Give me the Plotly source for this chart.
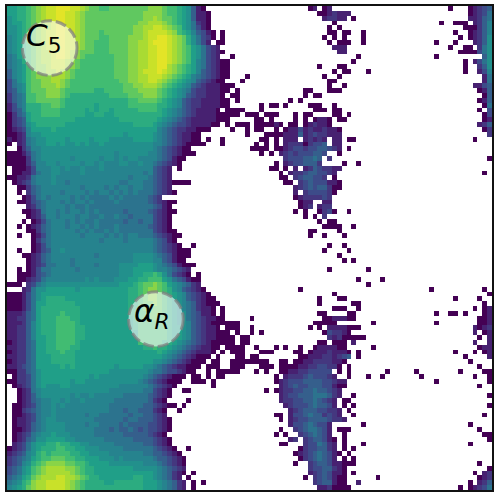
"""Backbone torsion density (log scale) on a 100 x 100 grid, with two labelled basins."""
import plotly.colors as pc
import plotly.graph_objects as go

# density level per cell, '.' is an empty bin; top row first
LEVELS = "0123456789abcdef"
# where each level sits on viridis
LEVEL_COLORS = [0.0, 0.09, 0.16, 0.23, 0.30, 0.38, 0.45, 0.50, 0.56, 0.62, 0.69, 0.75, 0.82, 0.87, 0.92, 0.96]

# columns 0-49
LEFT_ROWS = [
    "8899abcdee fffeedcbba abbbbbbbbc ccbaa98741 0",
    "8899abcdee ffeedcbbbb bbbbbbbbcc ccbaa98741 10",
    "7899abcdee ffeedcbbbb bbbbbbbbcc dcbba98741 10",
    "7889abcdde ffeedcbbbb bbbbbbbccd ddcba98752 10",
    "7789abcdde ffeedcbbbb bbbbbbccdd eedcba8753 10",
    "7789abcdee ffeedcbbba bbbbbbccde eeedca9864 310.0",
    "6789abcdee ffeedcbbba abbbbcccde effedcb975 320.0",
    "6789abcdee ffeedcbbaa abbbbccdde fffedcb975 31.00",
    "6789abcdee ffeedcbbaa abbbbccdde effedcba87 5321",
    "6789abcdde ffedcbbbaa abbbbccdde effedcba87 53210",
    "5689abcdde ffedcbaaaa aabbbccdde effedcba87 5321..0",
    "5679abcdde eedcbaaaaa aabbbccdde effedcba86 532100",
    "5678abccde eedcbaaaaa aabbbccdde effdcba986 532100",
    "4678abccdd edcbaaaaaa aabbbccdee efedcba986 432100",
    "4678abcccd ddcbaaaaaa aabbbccdde eedcba9865 432100...0",
    "3578abbccd dcbaaaaaaa aaabbccdde edcba98764 32100...0.",
    "3567abbccc dcbaaaaaaa aaaabbccdd dcba987643 2111000",
    "3467abbbcc cbaaaaaa99 aaaabbbccc cba9876532 211100.0",
    "2456aabbcc cba9999999 9aaaabbbcc cba9876432 21110.00",
    "2456aabbbb ba99999999 99999aabbb ba98764322 111100.0",
    "1356999aab ba99999989 99999aaaaa a998764322 111100",
    "1346999aaa a999998989 9899999aaa a987654321 1110.0000",
    "0245899aaa a999998899 8899999999 9987654321 11100000.0",
    "0234899999 9999888888 8889999999 9876543211 111000",
    "0234789999 9988888888 8888889999 8765433211 1100.0.000",
    "0123688889 8888888888 8888888888 8654322110 00....0..0",
    "0012677888 8888888888 8888788888 7654321100 .........0",
    "1012567788 8878888788 8777778888 7654321100 .0..0",
    "0.12567788 7877878778 7777777777 6654321000 0...0",
    "..02466777 7777777777 7777777777 65432100",
    "0001356777 7777777777 7767777776 654321000",
    "0000256777 7776777776 7767677666 6543100",
    "0000246677 6777767767 6667766766 543210",
    ".000136667 7676676667 6666666666 4321.0",
    ".001135667 7666676666 6666666656 4321",
    "0011256667 6666666666 6666656665 4321",
    ".012356667 6656666666 6665566655 43210000",
    "..00245666 6666656666 5656656655 4321",
    "..0.245666 6566665656 6565656555 43210",
    "...0135656 6665656555 5656555554 32",
    "..00134566 6565665655 5565555554 32100",
    "....124566 6656556555 5555555555 4310",
    "...0012566 5656656565 5555455554 32100",
    "....012466 5666566556 5565545555 3210",
    "...0.01356 6656565565 5555455455 3210",
    "..0.012456 6656656565 5565555554 3210",
    "....002456 6666565655 6565555555 32100",
    "..0..01356 6666656666 5656566555 432100",
    ".....02456 6666666665 6666566666 54310",
    ".....01356 6666666666 6666666666 543210..0",
    "..0..01346 6766666666 6666666666 54321000",
    "...0012456 6666666656 6666667777 65431000",
    "....012456 6665666666 6666667777 6643100",
    "....012355 6665666656 6667777888 765431000",
    "..0.013556 6666566666 6667778888 76654321",
    "..00013456 6666666666 6667778899 a9753210.0",
    "..00123566 6666667676 667778899a aa87543100",
    "000.235677 7777777777 7778889abb cba8765421",
    "...1257788 8888788888 8888899abc cba9764321 0",
    "0001357888 8888888888 8888899abc cba9876432 10",
    "0001357899 9988888888 8888899abc cba9876432 100",
    "0001358899 9999888888 8888899abb cba9876542 1000",
    "0001358999 9999988888 8888899abb bba9876542 110.0",
    "1112458999 9a99988888 8888899aab bba9877543 110.0",
    "1122458999 aaa9988888 8888889aab baa9877543 21100",
    "1112468999 aaaa988888 8888889aaa aaa9877643 21000000",
    "1122468999 aaaa998888 8888889aaa aaa9887643 2110.000",
    "1122468999 aaaa998888 8888888aaa aaa9887643 211000.0",
    "1122468899 aaaa998888 8888888aaa aaa9887643 2110000.00",
    "0122458899 aaaa988888 8888888aaa aa99876543 2100000.00",
    "1122458899 aaa9988888 8888888899 a998765432 1100.0000",
    "0122458899 9a99888888 8888888888 8987654321 110.0.000",
    "1122458889 9999888888 8888888888 8876543210 00.0...00",
    "0122458889 9999888888 8888888888 7765432100 0.00..0000",
    "1123458888 8989888888 8878888877 6543211000 .000..000",
    "0022457888 8888888888 8777777776 554332100. .0.00000",
    ".022357888 8888888787 7777777765 4321000.00 .0.00",
    "0022357888 8887887777 7777777654 321000..00 0.0",
    ".012357877 7887777777 7776666665 43210..... ..0",
    "..01256777 7777777777 7666666655 3210..00",
    "..01246777 7776766766 6666555554 3210",
    "..01245667 7676676666 6655555554 210....0",
    ".001235667 6766666666 6555555544 32100.0",
    ".002345667 6666666666 6555455444 210..0",
    ".001235667 6666665665 5555545544 321",
    ".011235677 6666666655 5555455444 3210",
    ".011245677 7766665665 5554544443 3210",
    ".001245677 7766666655 5454454343 3210",
    ".012356778 7776666655 5555444443 210",
    ".012457788 8877666666 5555554444 3210",
    ".123578899 a998877666 6655555544 3210",
    "0123578999 aa99887776 6666555555 43210..0",
    "1234679a9a aaa9988777 7666666655 443210",
    "2345689aab bbaa998887 7767666666 5443210",
    "234679abcc ccbbaa9888 8777777766 6543210",
    "34578abcdd ddccba9988 8888887777 7654321",
    "34578abcdd dddcba9988 8888888888 7654210.0",
    "45689bcddd eeddcba998 8888889988 765421.0",
    "5679acddee eedcba9999 8899999988 8765421.0. 0",
    "6789bcddee eedcba9999 9999999988 8765421.0",
]

# columns 50-99
RIGHT_ROWS = [
    ".......... ..01.01... .......... .......... .0...01234",
    ".......... ....001211 1......... .......... .....01235",
    ".......... .....12211 .0........ .......... .....11245",
    ".......... .......0.. .......... .........0 ..000.1246",
    ".......... ......0.0. .......... .......... ....000246",
    ".......... ......00.0 0..0...... .......... ..0..01246",
    ".......... .....0.0.0 ...0...... .......... ...0.01247",
    ".......... ......0.00 0..0...... ........0. ..0...1247",
    ".......... .......111 .......... .......... .0..00.257",
    ".......... ........11 .......... .......... ...0000357",
    ".......... .......... ..0....... ........0. ........47",
    ".......... .......... .0........ .......... ....0.1357",
    ".......... ....0...00 .......... .......... ....0..247",
    ".......... .......0.0 0...0..... .......... ....0..136",
    ".......... .....0..0. .......... .......... ........15",
    ".......... ......00.. .......... .......... ........15",
    ".......... ......0..0 .......... .......... ......1134",
    ".......... .00...000. .......... .......... .......014",
    ".......... .0.00..... .......... .......... ........04",
    "........0. 0......... .......... .......... .......014",
    "..0.00.0.. ..000..0.. .......... .......... ........05",
    "..0....... ...000.00. .......... .......... .......0.3",
    "00.000...0 .00....00. 0......... .......... ........03",
    ".00.0....0 .0.0110.00 .......... .......... ........01",
    ".000010.00 .012110... .......... .......... .......124",
    ".00..0.011 312112110. .......... .......... ........02",
    "...0000111 412322111. .......... .......... .........2",
    "..00.0.111 .12121.11. 00........ .......... ......0...",
    ".0.0.0.122 202334.11. .......... .......... ..........",
    "0000.00123 323344321. 0......... .......... ..........",
    "..0.0.1232 333443..0. .......... .......... ..........",
    ".......233 34454.2... .......... .......... .........0",
    ".....0.123 34442....0 ..0....... .......... ..........",
    "....00.0.1 .12432211. .......... .......... ..........",
    "......0.12 23443321.. .......... .......... ........0.",
    "......00.2 344332.0.. .......... .......... ..........",
    ".......00. 234333110. .......... .......... ..........",
    ".........1 234344200. .......... .......... ..........",
    ".........1 .2333320.. .......... .......... ..........",
    ".........0 1222232... .......... .......... ..........",
    ".......... 011..11... .......... .......... ..........",
    ".......... 012.122... .......... .......... ..........",
    ".........0 .0..0230.. 0......... .......... ..........",
    ".......... .0.0.2.... .......... .......... ..........",
    ".......... ....0.00.. .......... .......... ..........",
    ".......... .....0000. .0........ .......... ..........",
    ".......... ..00....0. .......... .......... ..........",
    ".......... ..0..0...0 .......... .......... ..........",
    ".......... .......... .......... .......... ..........",
    ".......... ......0..0 .......... .......... ..........",
    ".......... .....0.... 0......... .......... ..........",
    ".......... ........0. .......... .......... ..........",
    ".......... .........0 .0........ .......... ..........",
    ".......... .......... .......... .......... ..........",
    ".......... ......0... ....0..... .......... ..........",
    ".......... .......... .......... .......... ..........",
    ".......... .......... ..0....0.. .......... ..........",
    ".......... .......... ....0..... .......... ..........",
    ".......... 0......... .......... .......0.. ........0.",
    ".......... .......0.. .......... .......... .........0",
    ".......... ....0...00 .......... .......... ..0....0..",
    ".......... ....0..... .00....... .......... ........0.",
    ".......... .......000 ..0....... .......... ......0.01",
    ".......... ....00.... 00........ ........0. .00.0...01",
    "0......... .....00111 00........ .......... .......001",
    ".......... ...00000.. .....0.... ........0. .......001",
    "0......... ..0.0.1111 000....... .......... ......1012",
    "0.0....... .....03221 0......... .......... ......1.01",
    ".......... ......2120 0000...... .......... .......0.1",
    ".......... ....00.000 .1........ .......... ......1..1",
    ".0...0.0.. 0..0111100 .....0.... .......... .......011",
    "..000....0 0.01112111 0.0....... .......... ..0...0.01",
    "00........ 0011122123 4.0....... .......... ....0....1",
    "0000..00.0 0112222110 .......... .......... .....0....",
    "..000.0000 112233220. 0......... .......... .......0..",
    ".0.0..0011 2233333.0. 0.......0. ....0..... ...0....00",
    ".....0.122 23433321.. 0...0..0.. .....0.... ......0..0",
    ".....01233 3444433211 .......... ........0. .........0",
    "......1234 3344433100 .......... .......... .......0..",
    "...0.01223 344544321. .......... .......... ..........",
    "......1233 444555421. .0........ .......... .........0",
    "......1223 34454321.0 0......... .......... ..........",
    ".......123 33454431.0 .0........ .......... .........0",
    "........12 344433221. 0......... .......... ..........",
    ".....00.13 345442321. .0........ .......... ........0.",
    "......0.12 3344443221 .......... .......... ..........",
    "........13 3454331... ...0...... .......... .....0....",
    "......0..2 3455431.00 0......... .......... .......0..",
    ".....0.0.. 2345431..0 .......... .......... ........00",
    "........12 .2344310.0 .......... .......... .........0",
    "......00.. .2335421.0 ...0...... .......... .....0....",
    ".......... 02334421.0 .0........ .......... ..........",
    ".........0 123454310. 0......... .......... ..........",
    ".......... 02345431.0 .0........ .......... ..........",
    ".........0 ..23443110 00........ .......... .......0..",
    ".......... ..23344210 .......... .......... .........0",
    ".......... ..12343110 .0........ .......... ......0.12",
    ".......... .0.2343100 ......0... .......... .......012",
    ".......... ...2344100 ..1....... .......... .....0.124",
    ".......... ....112000 0......... .......... ...0.01235",
]

# basin circles: centre column, centre row
BASIN_CENTRES = [(8.3, 8.2), (30.2, 64.2)]
# labels: text, column, row
BASIN_LABELS = [
    ("<i>C</i><sub>5</sub>", 7.1, 6.0),
    ("<i>α</i><sub><i>R</i></sub>", 29.3, 63.0),
]


def parse_row(text):
    cells = text.replace(" ", "").ljust(50, ".")[:50]
    return [None if ch == "." else LEVELS.index(ch) for ch in cells]


z = [parse_row(left) + parse_row(right) for left, right in zip(LEFT_ROWS, RIGHT_ROWS)]

n = len(LEVELS) - 1
colorscale = [[i / n, c] for i, c in enumerate(pc.sample_colorscale("Viridis", LEVEL_COLORS))]

fig = go.Figure(
    go.Heatmap(
        z=z,
        colorscale=colorscale,
        zmin=0,
        zmax=n,
        showscale=False,
        hoverongaps=False,
    )
)

R = 5.65
for cx, cy in BASIN_CENTRES:
    fig.add_shape(
        type="circle",
        x0=cx - R, x1=cx + R, y0=cy - R, y1=cy + R,
        fillcolor="rgba(255,255,255,0.6)",
        line=dict(color="rgba(128,128,128,0.75)", width=3, dash="11px,4px"),
    )
for label, col, row in BASIN_LABELS:
    fig.add_annotation(
        x=col, y=row, text=label, showarrow=False,
        font=dict(family="DejaVu Sans", size=31, color="black"),
    )

fig.update_xaxes(range=[-0.5, 99.5], showticklabels=False, ticks="", showgrid=False,
                 zeroline=False, showline=True, mirror=True, linecolor="#111", linewidth=2)
fig.update_yaxes(range=[99.5, -0.5], showticklabels=False, ticks="", showgrid=False,
                 zeroline=False, showline=True, mirror=True, linecolor="#111", linewidth=2)
fig.update_layout(
    width=498, height=498,
    margin=dict(l=7, r=5, t=4, b=8),
    paper_bgcolor="white", plot_bgcolor="white",
    showlegend=False,
)

# the page body has an 8px margin by default, the figure should fill the window
fig.write_html(
    "out.html",
    config={"displayModeBar": False},
    post_script="document.body.style.margin='0';document.body.style.overflow='hidden';",
)
